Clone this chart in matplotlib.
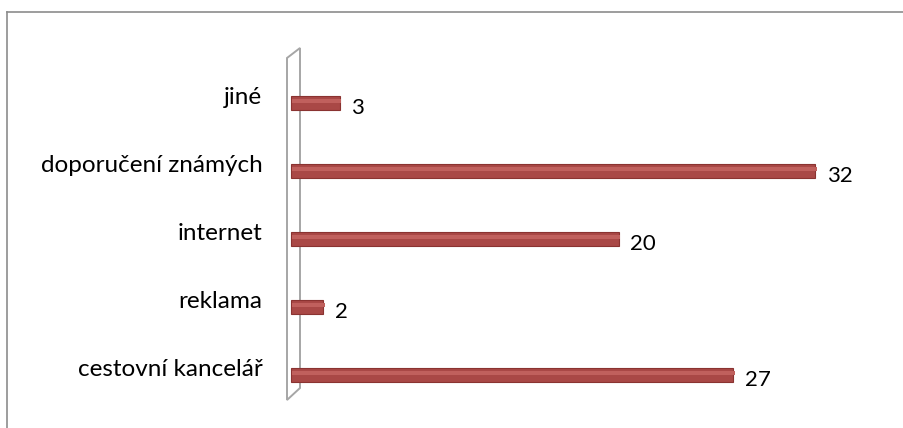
import matplotlib
matplotlib.use("Agg")
import matplotlib.pyplot as plt
from matplotlib.lines import Line2D
from matplotlib.patches import Polygon
from matplotlib.transforms import ScaledTranslation

categories = ["cestovní kancelář", "reklama", "internet", "doporučení známých", "jiné"]
values = [27, 2, 20, 32, 3]

W, H = 904, 428
fig = plt.figure(figsize=(W / 100, H / 100), dpi=100)
plt.rcParams['font.family'] = ['Lato', 'DejaVu Sans']

def fx(px):
    return px / W
def fy(py):
    return 1 - py / H

# 3D side wall (behind the axes)
wall = Polygon([(fx(287), fy(58)), (fx(300), fy(48)), (fx(300), fy(388)), (fx(287), fy(400))],
               closed=True, facecolor="white", edgecolor="#a6a6a6", linewidth=1.4,
               transform=fig.transFigure, zorder=0)
fig.add_artist(wall)

# axes: data 0 at px 293, 16.4 px per unit; categories spaced 68 px, first at y=375
x0_px = 293
ppu = 16.4
ax = fig.add_axes([x0_px / W, 0, 1 - x0_px / W, 1], zorder=1)
ax.patch.set_visible(False)
ax.set_xlim(0, (W - x0_px) / ppu)
ax.set_ylim((375 - H) / 68, 375 / 68)

pos = list(range(len(categories)))
bars = ax.barh(pos, values, height=0.2, color="#a94846", edgecolor="#8a3331", linewidth=0.8,
               left=-0.15, zorder=3)
for b in bars:
    b.set_clip_on(False)
hl = ax.barh([p + 0.03 for p in pos], values, height=0.06, color="#c0605d", linewidth=0,
             left=-0.05, zorder=4)
for b in hl:
    b.set_clip_on(False)

for p, v in zip(pos, values):
    ax.text(v + 0.55, p - 0.07, str(v), ha="left", va="center", fontsize=16, color="black")

ax.set_yticks(pos)
ax.set_yticklabels(categories, fontsize=17.5)
ax.tick_params(axis="y", length=0, pad=22)
ax.tick_params(axis="x", bottom=False, labelbottom=False)
off = ScaledTranslation(0, 0.07, fig.dpi_scale_trans)
for lab in ax.get_yticklabels():
    lab.set_transform(lab.get_transform() + off)
for s in ax.spines.values():
    s.set_visible(False)

# outer chart frame
fig.add_artist(Line2D([fx(7), fx(W)], [fy(12), fy(12)], transform=fig.transFigure,
                      color="#8c8c8c", linewidth=1.2))
fig.add_artist(Line2D([fx(7), fx(7)], [fy(12), fy(H)], transform=fig.transFigure,
                      color="#8c8c8c", linewidth=1.2))

fig.savefig("out.png", dpi=100)
